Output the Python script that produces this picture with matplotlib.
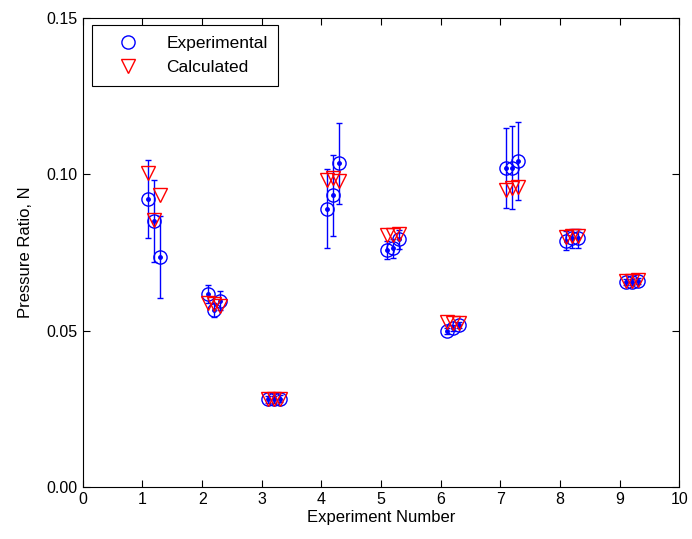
import matplotlib
matplotlib.use("Agg")
import matplotlib.pyplot as plt
import numpy as np

plt.rcParams['font.family'] = ['Liberation Sans', 'DejaVu Sans']

experiments = [1, 2, 3, 4, 5, 6, 7, 8, 9]
offsets = [0.1, 0.2, 0.3]

exp_vals = [
    [0.0921, 0.0851, 0.0736],
    [0.0617, 0.0566, 0.0596],
    [0.0280, 0.0280, 0.0283],
    [0.0890, 0.0933, 0.1035],
    [0.0758, 0.0763, 0.0792],
    [0.0499, 0.0509, 0.0518],
    [0.1021, 0.1021, 0.1043],
    [0.0788, 0.0796, 0.0796],
    [0.0656, 0.0656, 0.0660],
]
exp_err = [
    [0.0126, 0.0131, 0.0132],
    [0.0030, 0.0022, 0.0030],
    [0.0010, 0.0010, 0.0010],
    [0.0126, 0.0130, 0.0129],
    [0.0030, 0.0030, 0.0030],
    [0.0010, 0.0010, 0.0010],
    [0.0128, 0.0133, 0.0126],
    [0.0030, 0.0030, 0.0030],
    [0.0010, 0.0010, 0.0010],
]
calc_vals = [
    [0.1004, 0.0855, 0.0934],
    [0.0587, 0.0584, 0.0580],
    [0.0283, 0.0283, 0.0283],
    [0.0982, 0.0987, 0.0980],
    [0.0806, 0.0806, 0.0809],
    [0.0528, 0.0525, 0.0525],
    [0.0950, 0.0955, 0.0960],
    [0.0800, 0.0803, 0.0803],
    [0.0660, 0.0660, 0.0662],
]

fig = plt.figure(figsize=(6.92, 5.39), dpi=100)
ax = fig.add_axes([0.1197, 0.0965, 0.862, 0.8700])

xs = np.array([[e + o for o in offsets] for e in experiments]).ravel()
ev = np.array(exp_vals).ravel()
ee = np.array(exp_err).ravel()
cv = np.array(calc_vals).ravel()

ax.errorbar(xs, ev, yerr=ee, fmt='.', color='blue', ecolor='blue',
            elinewidth=1.0, capsize=2.5, capthick=1.0, markersize=5, zorder=3)
ax.plot(xs, ev, 'o', mfc='none', mec='blue', markersize=9.5, mew=1.0,
        label='Experimental', zorder=4)
ax.plot(xs, cv, 'v', mfc='none', mec='red', markersize=9.5, mew=1.0,
        label='Calculated', zorder=5)

ax.set_xlim(0, 10)
ax.set_ylim(0, 0.15)
ax.set_xticks(range(0, 11))
ax.set_yticks([0.0, 0.05, 0.10, 0.15])
ax.set_yticklabels(['0.00', '0.05', '0.10', '0.15'])
ax.tick_params(direction='in', top=True, right=True, labelsize=11.5, length=5)
ax.set_xlabel('Experiment Number', fontsize=12, labelpad=2)
ax.set_ylabel('Pressure Ratio, N', fontsize=12, labelpad=10)

leg = ax.legend(loc='upper left', fontsize=12.5, fancybox=False, edgecolor='black',
                framealpha=1, bbox_to_anchor=(0.015, 0.985),
                borderaxespad=0.0, handletextpad=0.7,
                borderpad=0.6, labelspacing=0.55, handlelength=3.0)
leg.get_frame().set_linewidth(0.8)

fig.savefig('out.png', dpi=100)
